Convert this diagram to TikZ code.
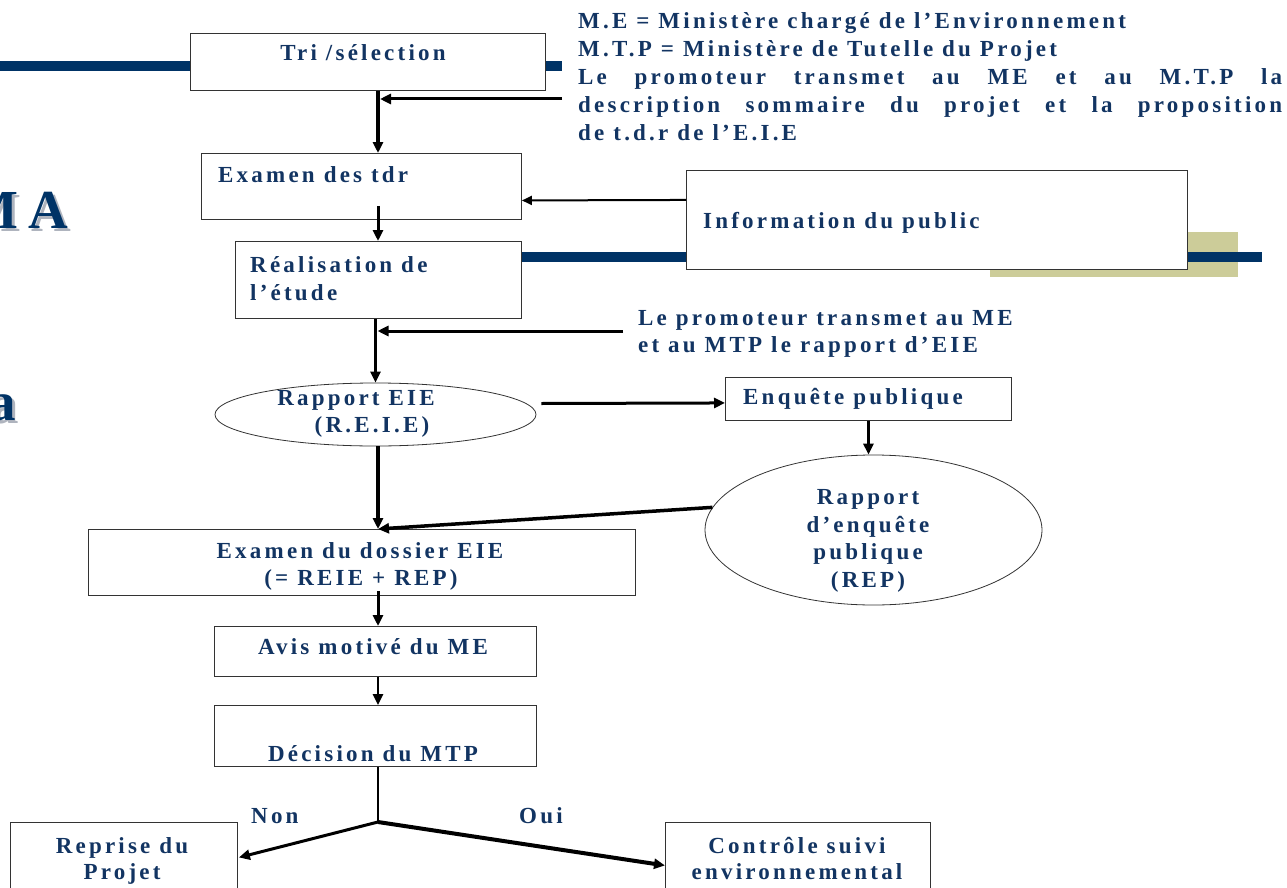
\documentclass[tikz,border=0pt]{standalone}
\usepackage{fontspec}
\setmainfont{Liberation Serif}
\newfontfamily\spfont[LetterSpace=14]{Liberation Serif}
\usetikzlibrary{arrows.meta,calc,shapes.geometric}
\definecolor{navy}{RGB}{0,51,102}
\definecolor{txtc}{RGB}{18,52,98}
\definecolor{khaki}{RGB}{204,204,153}
\definecolor{shadowc}{RGB}{175,180,190}
\begin{document}
\begin{tikzpicture}[x=1pt,y=-1pt,
  box/.style={draw=black!80,line width=0.9pt,fill=white,inner sep=0pt,anchor=north west},
  oval/.style={draw=black!80,line width=0.8pt,fill=white,ellipse,inner sep=0pt},
  lbl/.style={text=txtc,font=\spfont\bfseries\fontsize{23}{27}\selectfont,inner sep=0pt},
  arr/.style={line width=3pt,-{Triangle[length=11pt,width=10pt]}},
  thinarr/.style={line width=2pt,-{Triangle[length=10pt,width=9pt]}},
  title/.style={font=\bfseries\fontsize{55}{55}\selectfont,inner sep=0pt},
]
\path[use as bounding box] (0,0) rectangle (1287,888);
\clip (0,0) rectangle (1287,888);
\fill[white] (0,0) rectangle (1287,888);
% background of the slide
\fill[navy] (0,61) rectangle (562,71);
\fill[khaki] (990,232) rectangle (1238,277);
\fill[navy] (521,252) rectangle (1262,262);
\node[title,anchor=base east,text=shadowc] (tmas) at (71,231) {M\hspace{10pt}A};
\node[title,anchor=base east,text=navy] (tma) at (68,228) {M\hspace{10pt}A};
\node[title,anchor=base east,text=shadowc] (tas) at (19,423) {a};
\node[title,anchor=base east,text=navy] (ta) at (16,420) {a};
\coordinate (spine) at (378,0);
% boxes
\node[box,minimum width=355pt,minimum height=57pt] (tri) at (190,33) {};
\node[box,minimum width=320pt,minimum height=66pt] (tdr) at (201,153) {};
\node[box,minimum width=501pt,minimum height=99pt] (info) at (686,170) {};
\node[box,minimum width=286pt,minimum height=77pt] (real) at (235,241) {};
\node[oval,minimum width=321pt,minimum height=63pt] (reie) at (375.5,414.5) {};
\node[box,minimum width=286pt,minimum height=43pt] (enq) at (725,377) {};
\node[oval,minimum width=337pt,minimum height=150pt] (rep) at (873.5,530) {};
\node[box,minimum width=547pt,minimum height=66pt] (dos) at (88,529) {};
\node[box,minimum width=322pt,minimum height=50pt] (avis) at (214,626) {};
\node[box,minimum width=322pt,minimum height=61pt] (dec) at (214,705) {};
\node[box,minimum width=227pt,minimum height=90pt] (repr) at (10,822) {};
\node[box,minimum width=265pt,minimum height=90pt] (ctrl) at (665,822) {};
% texts
\node[lbl,anchor=base] (ttri) at (363,61) {Tri /sélection};
\node[lbl,anchor=base west] (ttdr) at (218,182) {Examen des tdr};
\node[lbl,anchor=base west] (tinfo) at (703,228) {Information du public};
\node[lbl,anchor=base west,align=left] (treal) at (250,272) {Réalisation de};
\node[lbl,anchor=base west] (treal2) at (250,300) {l’étude};
\node[lbl,anchor=base west] (tl21) at (638,325) {Le promoteur transmet au ME};
\node[lbl,anchor=base west] (tl22) at (638,352) {et au MTP le rapport d’EIE};
\node[lbl,anchor=base] (treie1) at (356,405) {Rapport EIE};
\node[lbl,anchor=base] (treie2) at (372,432) {(R.E.I.E)};
\node[lbl,anchor=base west] (tenq) at (743,404) {Enquête publique};
\node[lbl,anchor=base] (trep1) at (868,504) {Rapport};
\node[lbl,anchor=base] (trep2) at (868,532) {d’enquête};
\node[lbl,anchor=base] (trep3) at (868,559) {publique};
\node[lbl,anchor=base] (trep4) at (868,587) {(REP)};
\node[lbl,anchor=base] (tdos1) at (360,558) {Examen du dossier EIE};
\node[lbl,anchor=base] (tdos2) at (361,585) {(= REIE + REP)};
\node[lbl,anchor=base] (tavis) at (373,654) {Avis motivé du ME};
\node[lbl,anchor=base] (tdec) at (373,761) {Décision du MTP};
\node[lbl,anchor=base west] (tnon) at (251,823) {Non};
\node[lbl,anchor=base west] (toui) at (519,823) {Oui};
\node[lbl,anchor=base] (trepr1) at (122,853) {Reprise du};
\node[lbl,anchor=base] (trepr2) at (122,879) {Projet};
\node[lbl,anchor=base] (tctrl1) at (797,853) {Contrôle suivi};
\node[lbl,anchor=base] (tctrl2) at (797,879) {environnemental};
% legend
\node[lbl,anchor=base west] (lg1) at (578,29) {M.E = Ministère chargé de l’Environnement};
\node[lbl,anchor=base west] (lg2) at (578,57) {M.T.P = Ministère de Tutelle du Projet};
\node[lbl,anchor=base west] (lg3) at (578,85) {\makebox[704pt][s]{Le promoteur transmet au ME et au M.T.P la}};
\node[lbl,anchor=base west] (lg4) at (578,113) {\makebox[704pt][s]{description sommaire du projet et la proposition}};
\node[lbl,anchor=base west] (lg5) at (578,141) {de t.d.r de l’E.I.E};
% connectors
\coordinate (l1) at (562,99);
\coordinate (l2) at (623,331);
\coordinate (junc) at (378,822);
\draw[arr,line width=3.5pt] (tri.south -| spine) -- (tdr.north -| spine);
\draw[arr] (l1) -- ($(l1 -| spine)+(2,0)$);
\draw[arr] ($(tdr.south -| spine)+(0,-14)$) -- (real.north -| spine);
\draw[thinarr] ($(info.west)+(0,-20)$) -- ($(tdr.east)+(0,14)$);
\draw[arr,line width=3.5pt] (real.south -| reie.north) -- (reie.north);
\draw[arr] (l2) -- ($(l2 -| reie.north)+(2,0)$);
\draw[arr] ($(reie.east)+(5,-11)$) -- ($(enq.west)+(0,4)$);
\draw[arr] (enq.south) -- (rep.north -| enq.south);
\draw[arr,line width=4pt] (reie.south -| spine) -- (dos.north -| spine);
\draw[arr,line width=3.5pt] (rep.172) -- (dos.north -| spine);
\draw[arr] ($(dos.south -| spine)+(0,-5)$) -- (avis.north -| spine);
\draw[arr,line width=2.5pt] (avis.south -| spine) -- (dec.north -| spine);
\draw[line width=2pt] (dec.south -| spine) -- (junc);
\draw[arr] (junc) -- ($(repr.east)+(1,-10)$);
\draw[arr,line width=4pt] (junc) -- ($(ctrl.west)+(0,-2)$);
\end{tikzpicture}
\end{document}
